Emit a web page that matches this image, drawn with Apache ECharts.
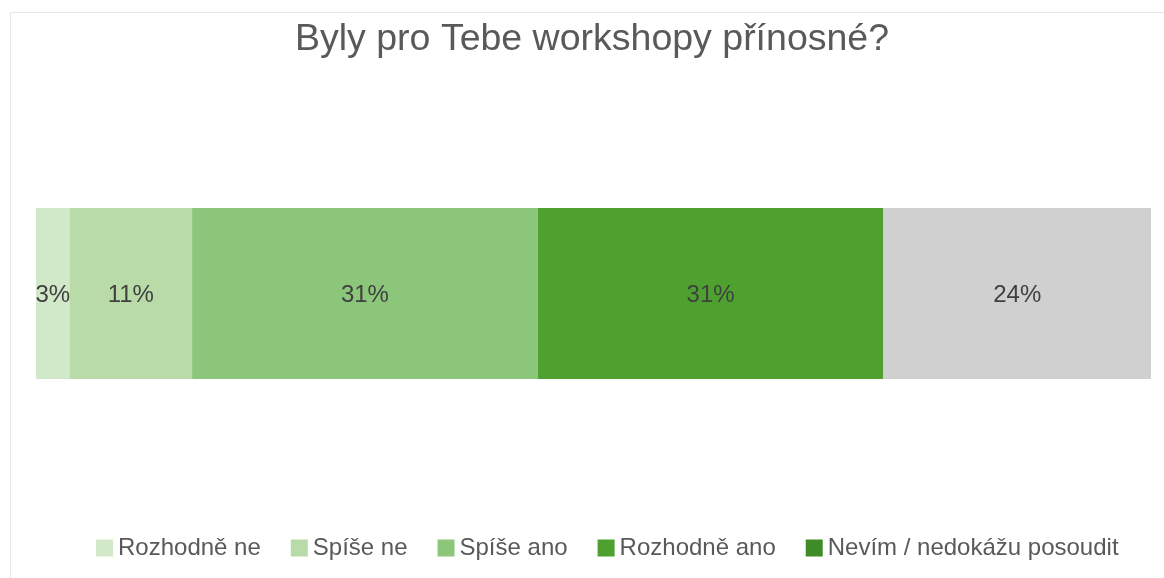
<!DOCTYPE html>
<html>
<head>
<meta charset="utf-8">
<script src="https://cdn.jsdelivr.net/npm/echarts@6/dist/echarts.min.js"></script>
<style>
  html, body { margin: 0; padding: 0; background: #fff; }
  #frame {
    position: absolute; left: 10px; top: 12px; width: 1160px; height: 580px;
    border: 1px solid #e6e6e6; box-sizing: border-box;
  }
  #main { position: absolute; left: 0; top: 0; width: 1164px; height: 578px; }
</style>
</head>
<body>
<div id="frame"></div>
<div id="main"></div>
<script>
var categories = ["Byly pro Tebe workshopy přínosné?"];
var seriesNames = ["Rozhodně ne", "Spíše ne", "Spíše ano", "Rozhodně ano", "Nevím / nedokážu posoudit"];
var seriesValues = [3, 11, 31, 31, 24];
var seriesColors = ["#d1e8c9", "#b8dba8", "#8cc67a", "#4ea12f", "#d0d0d0"];
var legendColors = ["#d1e8c9", "#b8dba8", "#8cc67a", "#4ea12f", "#3e8c28"];

var chartDom = document.getElementById("main");
var myChart = echarts.init(chartDom);

var series = seriesNames.map(function (name, i) {
  return {
    name: name,
    type: "bar",
    stack: "total",
    barWidth: "100%",
    itemStyle: { color: legendColors[i] },
    label: {
      show: true,
      position: "inside",
      formatter: "{c}%",
      color: "#404040",
      fontSize: 24,
      offset: [0, 2],
      fontFamily: "Liberation Sans, Arial, sans-serif",
    },
    data: [{ value: seriesValues[i], itemStyle: { color: seriesColors[i] } }],
  };
});

var option = {
  animation: false,
  title: {
    text: categories[0],
    left: 290,
    top: 16,
    textStyle: {
      fontSize: 37.5,
      fontWeight: "normal",
      color: "#595959",
      fontFamily: "Liberation Sans, Arial, sans-serif",
    },
  },
  legend: {
    bottom: 13,
    left: 91,
    itemWidth: 17,
    itemHeight: 17,
    itemGap: 30,
    icon: "rect",
    textStyle: {
      fontSize: 24,
      color: "#595959",
      fontFamily: "Liberation Sans, Arial, sans-serif",
    },
  },
  grid: { left: 36, right: 13, top: 208, bottom: 199 },
  xAxis: { type: "value", min: 0, max: 100, show: false },
  yAxis: { type: "category", data: categories, show: false },
  series: series,
};

option && myChart.setOption(option);
</script>
</body>
</html>
